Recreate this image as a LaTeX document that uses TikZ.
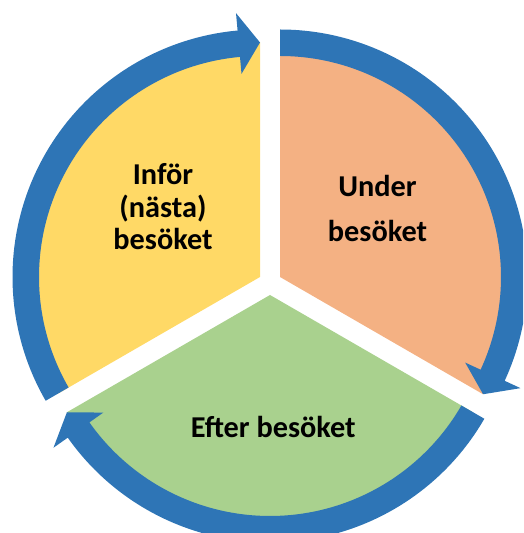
\documentclass[tikz,border=0pt]{standalone}
\usepackage{fontspec}
\setmainfont{Carlito}
\definecolor{segY}{HTML}{FFD966}
\definecolor{segO}{HTML}{F4B183}
\definecolor{segG}{HTML}{A9D18E}
\definecolor{ringB}{HTML}{2E75B6}
\newcommand{\cycarrow}[4]{%
  \pgfmathsetmacro{\arrbase}{#4+5.2}%
  \coordinate (ctr) at (#1,#2);
  \fill[ringB] ([shift={(ctr)}]#3:247.5) arc[start angle=#3, end angle=\arrbase, radius=247.5]
    -- ([shift={(ctr)}]\arrbase:265) -- ([shift={(ctr)}]#4:234.5)
    -- ([shift={(ctr)}]\arrbase:204) -- ([shift={(ctr)}]\arrbase:221)
    arc[start angle=\arrbase, end angle=#3, radius=221] -- cycle;
}
\begin{document}
\begin{tikzpicture}[x=1pt,y=1pt,
  lbl/.style={anchor=base, inner sep=0pt, font=\fontsize{30.3}{36}\selectfont\bfseries, text=black}]
\useasboundingbox (0,0) rectangle (523,533);
\clip (0,0) rectangle (523,533);
% segments
\fill[segY] (260,256) -- ++(90:234.5) arc[start angle=90, end angle=210, radius=234.5] -- cycle;
\fill[segO] (280,256) -- ++(-30:234.5) arc[start angle=-30, end angle=90, radius=234.5] -- cycle;
\fill[segG] (270,238) -- ++(210:234.5) arc[start angle=210, end angle=330, radius=234.5] -- cycle;
% arrows
\cycarrow{260}{256}{210}{90}
\cycarrow{280}{256}{90}{-30}
\cycarrow{270}{238}{330}{210}
% labels
\node[lbl] (y1) at (163,348) {Inför};
\node[lbl] (y2) at (163,315) {(nästa)};
\node[lbl] (y3) at (163,283) {besöket};
\node[lbl] (o1) at (377.5,336.3) {Under};
\node[lbl] (o2) at (377.5,291.3) {besöket};
\node[lbl] (g1) at (273.3,95.7) {Efter besöket};
\end{tikzpicture}
\end{document}
